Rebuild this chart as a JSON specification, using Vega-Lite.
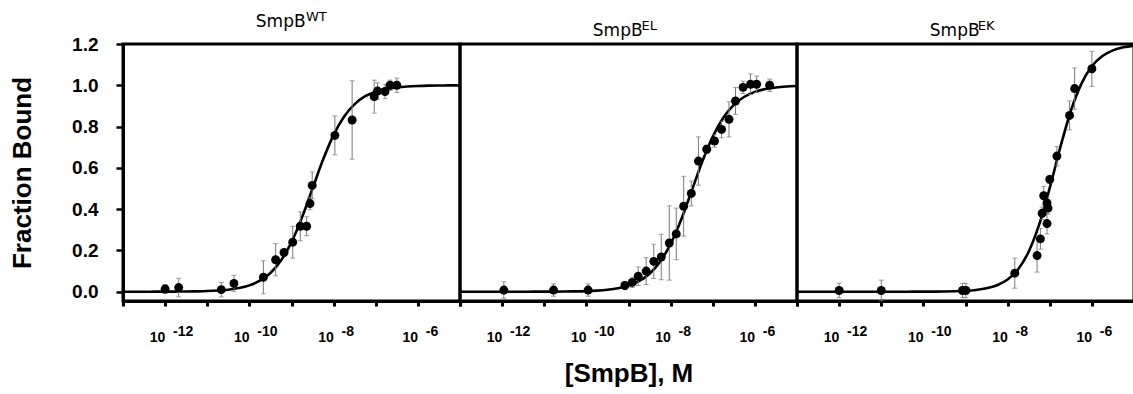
{
  "$schema": "https://vega.github.io/schema/vega-lite/v6.json",
  "background": "white",
  "padding": {"left": 8, "top": 9, "right": 0, "bottom": 0},
  "config": {
    "font": "Liberation Sans",
    "view": {"stroke": "black", "strokeWidth": 3},
    "axis": {"grid": false, "domainColor": "black", "domainWidth": 3, "tickColor": "black", "labelColor": "black", "titleColor": "black", "labelFont": "Liberation Sans", "labelFontWeight": "bold", "titleFont": "Liberation Sans", "titleFontWeight": "bold"},
    "title": {"font": "DejaVu Sans", "fontSize": 13, "fontWeight": "normal", "color": "black", "subtitleFont": "DejaVu Sans", "subtitleFontSize": 17, "subtitleColor": "black", "subtitlePadding": -10, "anchor": "middle", "offset": 5}
  },
  "data": {"values": [
    {"panel": "WT", "kind": "obs", "conc": 1.0e-12, "frac": 0.013, "err": 0.022},
    {"panel": "WT", "kind": "obs", "conc": 2.1e-12, "frac": 0.02, "err": 0.045},
    {"panel": "WT", "kind": "obs", "conc": 2.15e-11, "frac": 0.01, "err": 0.035},
    {"panel": "WT", "kind": "obs", "conc": 4.3e-11, "frac": 0.04, "err": 0.04},
    {"panel": "WT", "kind": "obs", "conc": 2.15e-10, "frac": 0.07, "err": 0.08},
    {"panel": "WT", "kind": "obs", "conc": 4.2e-10, "frac": 0.155, "err": 0.078},
    {"panel": "WT", "kind": "obs", "conc": 6.65e-10, "frac": 0.19, "err": 0.015},
    {"panel": "WT", "kind": "obs", "conc": 1.07e-9, "frac": 0.24, "err": 0.077},
    {"panel": "WT", "kind": "obs", "conc": 1.62e-9, "frac": 0.317, "err": 0.07},
    {"panel": "WT", "kind": "obs", "conc": 2.29e-9, "frac": 0.317, "err": 0.046},
    {"panel": "WT", "kind": "obs", "conc": 2.75e-9, "frac": 0.427, "err": 0.03},
    {"panel": "WT", "kind": "obs", "conc": 3.1e-9, "frac": 0.515, "err": 0.065},
    {"panel": "WT", "kind": "obs", "conc": 1.07e-8, "frac": 0.757, "err": 0.094},
    {"panel": "WT", "kind": "obs", "conc": 2.75e-8, "frac": 0.832, "err": 0.19},
    {"panel": "WT", "kind": "obs", "conc": 9.2e-8, "frac": 0.945, "err": 0.08},
    {"panel": "WT", "kind": "obs", "conc": 1.1e-7, "frac": 0.972, "err": 0.04},
    {"panel": "WT", "kind": "obs", "conc": 1.66e-7, "frac": 0.97, "err": 0.035},
    {"panel": "WT", "kind": "obs", "conc": 2.19e-7, "frac": 1.0, "err": 0.025},
    {"panel": "WT", "kind": "obs", "conc": 3.16e-7, "frac": 1.0, "err": 0.035},

    {"panel": "EL", "kind": "obs", "conc": 1.1e-12, "frac": 0.008, "err": 0.04},
    {"panel": "EL", "kind": "obs", "conc": 1.66e-11, "frac": 0.008, "err": 0.03},
    {"panel": "EL", "kind": "obs", "conc": 1.1e-10, "frac": 0.008, "err": 0.03},
    {"panel": "EL", "kind": "obs", "conc": 8.2e-10, "frac": 0.03, "err": 0.02},
    {"panel": "EL", "kind": "obs", "conc": 1.23e-9, "frac": 0.045, "err": 0.025},
    {"panel": "EL", "kind": "obs", "conc": 1.7e-9, "frac": 0.075, "err": 0.045},
    {"panel": "EL", "kind": "obs", "conc": 2.63e-9, "frac": 0.1, "err": 0.065},
    {"panel": "EL", "kind": "obs", "conc": 3.98e-9, "frac": 0.147, "err": 0.083},
    {"panel": "EL", "kind": "obs", "conc": 6.0e-9, "frac": 0.168, "err": 0.11},
    {"panel": "EL", "kind": "obs", "conc": 9.3e-9, "frac": 0.236, "err": 0.18},
    {"panel": "EL", "kind": "obs", "conc": 1.36e-8, "frac": 0.28, "err": 0.125},
    {"panel": "EL", "kind": "obs", "conc": 2.04e-8, "frac": 0.414, "err": 0.145},
    {"panel": "EL", "kind": "obs", "conc": 3.1e-8, "frac": 0.476, "err": 0.06},
    {"panel": "EL", "kind": "obs", "conc": 4.57e-8, "frac": 0.633, "err": 0.117},
    {"panel": "EL", "kind": "obs", "conc": 7.2e-8, "frac": 0.69, "err": 0.02},
    {"panel": "EL", "kind": "obs", "conc": 1.1e-7, "frac": 0.73, "err": 0.03},
    {"panel": "EL", "kind": "obs", "conc": 1.62e-7, "frac": 0.786, "err": 0.04},
    {"panel": "EL", "kind": "obs", "conc": 2.43e-7, "frac": 0.835, "err": 0.085},
    {"panel": "EL", "kind": "obs", "conc": 3.47e-7, "frac": 0.924, "err": 0.065},
    {"panel": "EL", "kind": "obs", "conc": 5.25e-7, "frac": 0.99, "err": 0.03},
    {"panel": "EL", "kind": "obs", "conc": 7.9e-7, "frac": 1.005, "err": 0.05},
    {"panel": "EL", "kind": "obs", "conc": 1.1e-6, "frac": 1.005, "err": 0.04},
    {"panel": "EL", "kind": "obs", "conc": 2.24e-6, "frac": 1.0, "err": 0.03},

    {"panel": "EK", "kind": "obs", "conc": 1.0e-12, "frac": 0.006, "err": 0.035},
    {"panel": "EK", "kind": "obs", "conc": 1.0e-11, "frac": 0.006, "err": 0.05},
    {"panel": "EK", "kind": "obs", "conc": 8.5e-10, "frac": 0.006, "err": 0.035},
    {"panel": "EK", "kind": "obs", "conc": 1.02e-9, "frac": 0.006, "err": 0.035},
    {"panel": "EK", "kind": "obs", "conc": 1.48e-8, "frac": 0.09, "err": 0.073},
    {"panel": "EK", "kind": "obs", "conc": 5.0e-8, "frac": 0.175, "err": 0.08},
    {"panel": "EK", "kind": "obs", "conc": 6.0e-8, "frac": 0.256, "err": 0.05},
    {"panel": "EK", "kind": "obs", "conc": 6.6e-8, "frac": 0.38, "err": 0.03},
    {"panel": "EK", "kind": "obs", "conc": 7.2e-8, "frac": 0.465, "err": 0.045},
    {"panel": "EK", "kind": "obs", "conc": 8.6e-8, "frac": 0.33, "err": 0.05},
    {"panel": "EK", "kind": "obs", "conc": 8.6e-8, "frac": 0.43, "err": 0.03},
    {"panel": "EK", "kind": "obs", "conc": 9.1e-8, "frac": 0.405, "err": 0.03},
    {"panel": "EK", "kind": "obs", "conc": 1.0e-7, "frac": 0.544, "err": 0.02},
    {"panel": "EK", "kind": "obs", "conc": 1.48e-7, "frac": 0.657, "err": 0.047},
    {"panel": "EK", "kind": "obs", "conc": 2.95e-7, "frac": 0.854, "err": 0.07},
    {"panel": "EK", "kind": "obs", "conc": 3.9e-7, "frac": 0.984, "err": 0.1},
    {"panel": "EK", "kind": "obs", "conc": 1.0e-6, "frac": 1.08, "err": 0.085},

    {"panel": "WT", "kind": "fit", "conc": 1e-13, "frac": 0},
    {"panel": "WT", "kind": "fit", "conc": 1.778e-13, "frac": 0.0001},
    {"panel": "WT", "kind": "fit", "conc": 3.162e-13, "frac": 0.0001},
    {"panel": "WT", "kind": "fit", "conc": 5.623e-13, "frac": 0.0002},
    {"panel": "WT", "kind": "fit", "conc": 1e-12, "frac": 0.0003},
    {"panel": "WT", "kind": "fit", "conc": 1.778e-12, "frac": 0.0006},
    {"panel": "WT", "kind": "fit", "conc": 3.162e-12, "frac": 0.001},
    {"panel": "WT", "kind": "fit", "conc": 5.623e-12, "frac": 0.0018},
    {"panel": "WT", "kind": "fit", "conc": 1e-11, "frac": 0.0032},
    {"panel": "WT", "kind": "fit", "conc": 1.778e-11, "frac": 0.0056},
    {"panel": "WT", "kind": "fit", "conc": 3.162e-11, "frac": 0.0099},
    {"panel": "WT", "kind": "fit", "conc": 5.623e-11, "frac": 0.0175},
    {"panel": "WT", "kind": "fit", "conc": 1e-10, "frac": 0.0307},
    {"panel": "WT", "kind": "fit", "conc": 1.778e-10, "frac": 0.0532},
    {"panel": "WT", "kind": "fit", "conc": 3.162e-10, "frac": 0.0909},
    {"panel": "WT", "kind": "fit", "conc": 5.623e-10, "frac": 0.151},
    {"panel": "WT", "kind": "fit", "conc": 1e-9, "frac": 0.24},
    {"panel": "WT", "kind": "fit", "conc": 1.778e-9, "frac": 0.36},
    {"panel": "WT", "kind": "fit", "conc": 3.162e-9, "frac": 0.5},
    {"panel": "WT", "kind": "fit", "conc": 5.623e-9, "frac": 0.64},
    {"panel": "WT", "kind": "fit", "conc": 1e-8, "frac": 0.76},
    {"panel": "WT", "kind": "fit", "conc": 1.778e-8, "frac": 0.849},
    {"panel": "WT", "kind": "fit", "conc": 3.162e-8, "frac": 0.909},
    {"panel": "WT", "kind": "fit", "conc": 5.623e-8, "frac": 0.947},
    {"panel": "WT", "kind": "fit", "conc": 1e-7, "frac": 0.969},
    {"panel": "WT", "kind": "fit", "conc": 1.778e-7, "frac": 0.9825},
    {"panel": "WT", "kind": "fit", "conc": 3.162e-7, "frac": 0.99},
    {"panel": "WT", "kind": "fit", "conc": 5.623e-7, "frac": 0.9944},
    {"panel": "WT", "kind": "fit", "conc": 1e-6, "frac": 0.9968},
    {"panel": "WT", "kind": "fit", "conc": 1.778e-6, "frac": 0.9982},
    {"panel": "WT", "kind": "fit", "conc": 3.162e-6, "frac": 0.999},
    {"panel": "WT", "kind": "fit", "conc": 5.623e-6, "frac": 0.9994},
    {"panel": "WT", "kind": "fit", "conc": 1e-5, "frac": 0.9997},

    {"panel": "EL", "kind": "fit", "conc": 1e-13, "frac": 0},
    {"panel": "EL", "kind": "fit", "conc": 1.778e-13, "frac": 0},
    {"panel": "EL", "kind": "fit", "conc": 3.162e-13, "frac": 0},
    {"panel": "EL", "kind": "fit", "conc": 5.623e-13, "frac": 0},
    {"panel": "EL", "kind": "fit", "conc": 1e-12, "frac": 0},
    {"panel": "EL", "kind": "fit", "conc": 1.778e-12, "frac": 0.0001},
    {"panel": "EL", "kind": "fit", "conc": 3.162e-12, "frac": 0.0001},
    {"panel": "EL", "kind": "fit", "conc": 5.623e-12, "frac": 0.0002},
    {"panel": "EL", "kind": "fit", "conc": 1e-11, "frac": 0.0003},
    {"panel": "EL", "kind": "fit", "conc": 1.778e-11, "frac": 0.0005},
    {"panel": "EL", "kind": "fit", "conc": 3.162e-11, "frac": 0.001},
    {"panel": "EL", "kind": "fit", "conc": 5.623e-11, "frac": 0.0017},
    {"panel": "EL", "kind": "fit", "conc": 1e-10, "frac": 0.003},
    {"panel": "EL", "kind": "fit", "conc": 1.778e-10, "frac": 0.0053},
    {"panel": "EL", "kind": "fit", "conc": 3.162e-10, "frac": 0.0094},
    {"panel": "EL", "kind": "fit", "conc": 5.623e-10, "frac": 0.0167},
    {"panel": "EL", "kind": "fit", "conc": 1e-9, "frac": 0.0293},
    {"panel": "EL", "kind": "fit", "conc": 1.778e-9, "frac": 0.0509},
    {"panel": "EL", "kind": "fit", "conc": 3.162e-9, "frac": 0.0872},
    {"panel": "EL", "kind": "fit", "conc": 5.623e-9, "frac": 0.1452},
    {"panel": "EL", "kind": "fit", "conc": 1e-8, "frac": 0.232},
    {"panel": "EL", "kind": "fit", "conc": 1.778e-8, "frac": 0.349},
    {"panel": "EL", "kind": "fit", "conc": 3.162e-8, "frac": 0.4885},
    {"panel": "EL", "kind": "fit", "conc": 5.623e-8, "frac": 0.6294},
    {"panel": "EL", "kind": "fit", "conc": 1e-7, "frac": 0.7513},
    {"panel": "EL", "kind": "fit", "conc": 1.778e-7, "frac": 0.843},
    {"panel": "EL", "kind": "fit", "conc": 3.162e-7, "frac": 0.905},
    {"panel": "EL", "kind": "fit", "conc": 5.623e-7, "frac": 0.9444},
    {"panel": "EL", "kind": "fit", "conc": 1e-6, "frac": 0.968},
    {"panel": "EL", "kind": "fit", "conc": 1.778e-6, "frac": 0.9817},
    {"panel": "EL", "kind": "fit", "conc": 3.162e-6, "frac": 0.9896},
    {"panel": "EL", "kind": "fit", "conc": 5.623e-6, "frac": 0.9941},
    {"panel": "EL", "kind": "fit", "conc": 1e-5, "frac": 0.9967},

    {"panel": "EK", "kind": "fit", "conc": 1e-13, "frac": 0},
    {"panel": "EK", "kind": "fit", "conc": 1.778e-13, "frac": 0},
    {"panel": "EK", "kind": "fit", "conc": 3.162e-13, "frac": 0},
    {"panel": "EK", "kind": "fit", "conc": 5.623e-13, "frac": 0},
    {"panel": "EK", "kind": "fit", "conc": 1e-12, "frac": 0},
    {"panel": "EK", "kind": "fit", "conc": 1.778e-12, "frac": 0},
    {"panel": "EK", "kind": "fit", "conc": 3.162e-12, "frac": 0},
    {"panel": "EK", "kind": "fit", "conc": 5.623e-12, "frac": 0},
    {"panel": "EK", "kind": "fit", "conc": 1e-11, "frac": 0},
    {"panel": "EK", "kind": "fit", "conc": 1.778e-11, "frac": 0.0001},
    {"panel": "EK", "kind": "fit", "conc": 3.162e-11, "frac": 0.0001},
    {"panel": "EK", "kind": "fit", "conc": 5.623e-11, "frac": 0.0002},
    {"panel": "EK", "kind": "fit", "conc": 1e-10, "frac": 0.0003},
    {"panel": "EK", "kind": "fit", "conc": 1.778e-10, "frac": 0.0006},
    {"panel": "EK", "kind": "fit", "conc": 3.162e-10, "frac": 0.0012},
    {"panel": "EK", "kind": "fit", "conc": 5.623e-10, "frac": 0.0023},
    {"panel": "EK", "kind": "fit", "conc": 1e-9, "frac": 0.0044},
    {"panel": "EK", "kind": "fit", "conc": 1.778e-9, "frac": 0.0085},
    {"panel": "EK", "kind": "fit", "conc": 3.162e-9, "frac": 0.0163},
    {"panel": "EK", "kind": "fit", "conc": 5.623e-9, "frac": 0.0311},
    {"panel": "EK", "kind": "fit", "conc": 1e-8, "frac": 0.0588},
    {"panel": "EK", "kind": "fit", "conc": 1.778e-8, "frac": 0.1087},
    {"panel": "EK", "kind": "fit", "conc": 3.162e-8, "frac": 0.1939},
    {"panel": "EK", "kind": "fit", "conc": 5.623e-8, "frac": 0.3258},
    {"panel": "EK", "kind": "fit", "conc": 1e-7, "frac": 0.5027},
    {"panel": "EK", "kind": "fit", "conc": 1.778e-7, "frac": 0.6989},
    {"panel": "EK", "kind": "fit", "conc": 3.162e-7, "frac": 0.8754},
    {"panel": "EK", "kind": "fit", "conc": 5.623e-7, "frac": 1.007},
    {"panel": "EK", "kind": "fit", "conc": 1e-6, "frac": 1.0918},
    {"panel": "EK", "kind": "fit", "conc": 1.778e-6, "frac": 1.1415},
    {"panel": "EK", "kind": "fit", "conc": 3.162e-6, "frac": 1.169},
    {"panel": "EK", "kind": "fit", "conc": 5.623e-6, "frac": 1.1838},
    {"panel": "EK", "kind": "fit", "conc": 1e-5, "frac": 1.1916}
  ]},
  "spacing": 0,
  "bounds": "flush",
  "hconcat": [
    {
      "width": 337, "height": 257,
      "title": {"text": "\u200b\u00a0\u00a0\u00a0\u00a0\u00a0\u00a0\u00a0\u00a0\u00a0\u00a0\u00a0\u00a0WT", "subtitle": "SmpB\u00a0\u00a0\u00a0\u00a0\u200b"},
      "transform": [{"filter": "datum.panel == 'WT'"}],
      "encoding": {
        "x": {"field": "conc", "type": "quantitative", "scale": {"type": "log", "domain": [1e-13, 1e-5], "nice": false}, "title": null,
          "axis": {"values": [1e-13, 1e-12, 1e-11, 1e-10, 1e-9, 1e-8, 1e-7, 1e-6, 1e-5],
            "labelExpr": "round(log(datum.value)/LN10) == -12 ? ['\u200b\u00a0\u00a0\u00a0\u00a0\u00a0\u00a0-12', '10'] : round(log(datum.value)/LN10) == -10 ? ['\u200b\u00a0\u00a0\u00a0\u00a0\u00a0\u00a0-10', '10'] : round(log(datum.value)/LN10) == -8 ? ['\u200b\u00a0\u00a0\u00a0\u00a0\u00a0\u00a0-8', '10'] : round(log(datum.value)/LN10) == -6 ? ['\u200b\u00a0\u00a0\u00a0\u00a0\u00a0\u00a0-6', '10'] : ''",
            "labelAlign": "left", "labelOffset": -16, "labelLineHeight": 6.5, "labelFontSize": 14, "labelBaseline": "top", "labelPadding": 18, "labelOverlap": false, "labelFlush": false,
            "tickSize": 5, "tickWidth": 3, "titleFontSize": 26, "titlePadding": 16}},
        "y": {"field": "frac", "type": "quantitative", "scale": {"domain": [-0.045, 1.2], "nice": false, "zero": false}, "title": "Fraction Bound",
          "axis": {"values": [0, 0.2, 0.4, 0.6, 0.8, 1.0, 1.2], "format": ".1f", "labelFontSize": 19, "labelPadding": 18, "tickSize": 7, "tickWidth": 2.5, "titleFontSize": 26, "titlePadding": 36}}
      },
      "layer": [
        {"transform": [{"filter": "datum.kind == 'fit'"}], "mark": {"type": "line", "color": "black", "strokeWidth": 2.6, "interpolate": "monotone", "clip": true}, "encoding": {}},
        {"transform": [{"filter": "datum.kind == 'obs'"}], "mark": {"type": "errorbar", "color": "#7a7a7a", "thickness": 1, "ticks": {"size": 5, "color": "#7a7a7a"}}, "encoding": {"yError": {"field": "err"}}},
        {"transform": [{"filter": "datum.kind == 'obs'"}], "mark": {"type": "circle", "color": "black", "size": 80, "opacity": 1}, "encoding": {}}
      ]
    },
    {
      "width": 337, "height": 257,
      "title": {"text": "\u200b\u00a0\u00a0\u00a0\u00a0\u00a0\u00a0\u00a0\u00a0\u00a0\u00a0EL", "subtitle": "SmpB\u00a0\u00a0\u00a0\u00a0\u200b"},
      "transform": [{"filter": "datum.panel == 'EL'"}],
      "encoding": {
        "x": {"field": "conc", "type": "quantitative", "scale": {"type": "log", "domain": [1e-13, 1e-5], "nice": false}, "title": "[SmpB], M",
          "axis": {"values": [1e-13, 1e-12, 1e-11, 1e-10, 1e-9, 1e-8, 1e-7, 1e-6, 1e-5],
            "labelExpr": "round(log(datum.value)/LN10) == -12 ? ['\u200b\u00a0\u00a0\u00a0\u00a0\u00a0\u00a0-12', '10'] : round(log(datum.value)/LN10) == -10 ? ['\u200b\u00a0\u00a0\u00a0\u00a0\u00a0\u00a0-10', '10'] : round(log(datum.value)/LN10) == -8 ? ['\u200b\u00a0\u00a0\u00a0\u00a0\u00a0\u00a0-8', '10'] : round(log(datum.value)/LN10) == -6 ? ['\u200b\u00a0\u00a0\u00a0\u00a0\u00a0\u00a0-6', '10'] : ''",
            "labelAlign": "left", "labelOffset": -16, "labelLineHeight": 6.5, "labelFontSize": 14, "labelBaseline": "top", "labelPadding": 18, "labelOverlap": false, "labelFlush": false,
            "tickSize": 5, "tickWidth": 3, "titleFontSize": 26, "titlePadding": 16}},
        "y": {"field": "frac", "type": "quantitative", "scale": {"domain": [-0.045, 1.2], "nice": false, "zero": false}, "axis": null}
      },
      "layer": [
        {"transform": [{"filter": "datum.kind == 'fit'"}], "mark": {"type": "line", "color": "black", "strokeWidth": 2.6, "interpolate": "monotone", "clip": true}, "encoding": {}},
        {"transform": [{"filter": "datum.kind == 'obs'"}], "mark": {"type": "errorbar", "color": "#7a7a7a", "thickness": 1, "ticks": {"size": 5, "color": "#7a7a7a"}}, "encoding": {"yError": {"field": "err"}}},
        {"transform": [{"filter": "datum.kind == 'obs'"}], "mark": {"type": "circle", "color": "black", "size": 80, "opacity": 1}, "encoding": {}}
      ]
    },
    {
      "width": 337, "height": 257,
      "title": {"text": "\u200b\u00a0\u00a0\u00a0\u00a0\u00a0\u00a0\u00a0\u00a0\u00a0\u00a0EK", "subtitle": "SmpB\u00a0\u00a0\u00a0\u00a0\u200b"},
      "transform": [{"filter": "datum.panel == 'EK'"}],
      "encoding": {
        "x": {"field": "conc", "type": "quantitative", "scale": {"type": "log", "domain": [1e-13, 1e-5], "nice": false}, "title": null,
          "axis": {"values": [1e-13, 1e-12, 1e-11, 1e-10, 1e-9, 1e-8, 1e-7, 1e-6, 1e-5],
            "labelExpr": "round(log(datum.value)/LN10) == -12 ? ['\u200b\u00a0\u00a0\u00a0\u00a0\u00a0\u00a0-12', '10'] : round(log(datum.value)/LN10) == -10 ? ['\u200b\u00a0\u00a0\u00a0\u00a0\u00a0\u00a0-10', '10'] : round(log(datum.value)/LN10) == -8 ? ['\u200b\u00a0\u00a0\u00a0\u00a0\u00a0\u00a0-8', '10'] : round(log(datum.value)/LN10) == -6 ? ['\u200b\u00a0\u00a0\u00a0\u00a0\u00a0\u00a0-6', '10'] : ''",
            "labelAlign": "left", "labelOffset": -16, "labelLineHeight": 6.5, "labelFontSize": 14, "labelBaseline": "top", "labelPadding": 18, "labelOverlap": false, "labelFlush": false,
            "tickSize": 5, "tickWidth": 3, "titleFontSize": 26, "titlePadding": 16}},
        "y": {"field": "frac", "type": "quantitative", "scale": {"domain": [-0.045, 1.2], "nice": false, "zero": false}, "axis": null}
      },
      "layer": [
        {"transform": [{"filter": "datum.kind == 'fit'"}], "mark": {"type": "line", "color": "black", "strokeWidth": 2.6, "interpolate": "monotone", "clip": true}, "encoding": {}},
        {"transform": [{"filter": "datum.kind == 'obs'"}], "mark": {"type": "errorbar", "color": "#7a7a7a", "thickness": 1, "ticks": {"size": 5, "color": "#7a7a7a"}}, "encoding": {"yError": {"field": "err"}}},
        {"transform": [{"filter": "datum.kind == 'obs'"}], "mark": {"type": "circle", "color": "black", "size": 80, "opacity": 1}, "encoding": {}}
      ]
    }
  ]
}
